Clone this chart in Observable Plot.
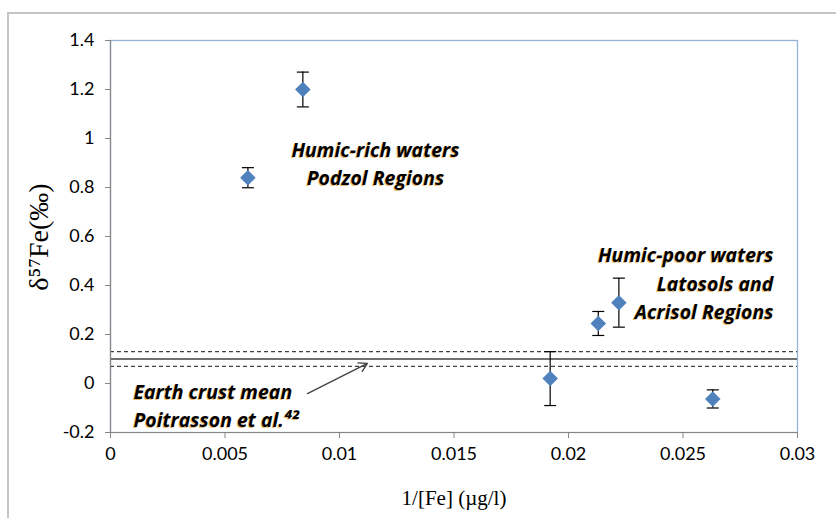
<!DOCTYPE html>
<html>
<head>
<meta charset="utf-8">
<script src="https://cdn.jsdelivr.net/npm/d3@7"></script>
<script src="https://cdn.jsdelivr.net/npm/@observablehq/plot@0.6"></script>
<style>
  html, body { margin: 0; padding: 0; background: #fff; }
  #wrap { position: relative; width: 836px; height: 518px; overflow: hidden; background: #fff; }
  #border { position: absolute; left: 7px; top: 12px; width: 1000px; height: 1000px; border: 2px solid #c4c4c4; box-sizing: border-box; }
  #wrap svg { position: absolute; left: 0; top: 0; }
  #ylabel { position: absolute; left: 39px; top: 237px; transform: translate(-50%, -50%) rotate(-90deg);
            white-space: nowrap; font-family: 'Liberation Serif', 'Times New Roman', serif; font-size: 28px; line-height: 1; color: #000; z-index: 2; }
</style>
</head>
<body>
<div id="wrap"><div id="border"></div><div id="ylabel"></div></div>
<script>
// Data
const invFe = [0.0060, 0.0084, 0.0192, 0.0213, 0.0222, 0.0263];
const delta57 = [0.84, 1.20, 0.02, 0.245, 0.33, -0.063];
const errors = [0.041, 0.071, 0.11, 0.049, 0.10, 0.037];

const crustMean = [0.10];
const crustBounds = [0.13, 0.07];

const xTicks = [0, 0.005, 0.01, 0.015, 0.02, 0.025, 0.03];
const yTicks = [-0.2, 0, 0.2, 0.4, 0.6, 0.8, 1, 1.2, 1.4];

const xLabel = "1/[Fe] (µg/l)";
const yLabel = "δ⁵⁷Fe(‰)";

const notes = [
  {x: 0.01157, y: 0.905, text: "Humic-rich waters\nPodzol Regions", anchor: "middle"},
  {x: 0.02895, y: 0.416, text: "Humic-poor waters\nLatosols and\nAcrisol Regions", anchor: "end"},
  {x: 0.00100, y: -0.083, text: "Earth crust mean\nPoitrasson et al.⁴²", anchor: "start"}
];

const arrowFrom = {x: 0.0086, y: -0.041};
const arrowTo = {x: 0.01122, y: 0.082};

const points = invFe.map((x, i) => ({x, y: delta57[i], e: errors[i]}));
const arrows = [{x1: arrowFrom.x, y1: arrowFrom.y, x2: arrowTo.x, y2: arrowTo.y}];

const fmt = d => String(+d.toFixed(3)).replace("−", "-");
const cap = { draw(ctx) { ctx.moveTo(-6, 0); ctx.lineTo(6, 0); } };

const annotFont = {fontFamily: "'Open Sans', Lato, sans-serif", fontWeight: "bold", fontStyle: "italic", fontSize: 19.5, lineHeight: 1.45};
const serif = "'Liberation Serif', 'Times New Roman', serif";

const plot = Plot.plot({
  width: 836,
  height: 518,
  marginLeft: 110,
  marginRight: 39,
  marginTop: 40,
  marginBottom: 86,
  style: {fontFamily: "Lato, sans-serif", fontSize: "18px", color: "#000", background: "transparent", overflow: "visible"},
  x: {domain: [0, 0.03]},
  y: {domain: [-0.2, 1.4]},
  marks: [
    Plot.frame({stroke: "#95b3d7", strokeWidth: 1.3}),
    Plot.ruleY(crustBounds, {stroke: "#404040", strokeWidth: 1.2, strokeDasharray: "4,3"}),
    Plot.ruleY(crustMean, {stroke: "#404040", strokeWidth: 1.5}),
    Plot.ruleX([0], {stroke: "#868686", strokeWidth: 1.2}),
    Plot.ruleY([-0.2], {stroke: "#868686", strokeWidth: 1.2}),
    Plot.axisX({ticks: xTicks, tickSize: 6, tickPadding: 9, tickFormat: fmt, stroke: "#868686", label: null, fontSize: 18}),
    Plot.axisY({ticks: yTicks, tickSize: 5, tickPadding: 11, tickFormat: fmt, stroke: "#868686", label: null, fontSize: 18}),
    Plot.axisX({ticks: [], label: xLabel, labelAnchor: "center", labelOffset: 72, labelArrow: "none", fontFamily: serif, fontSize: 21, tickSize: 0}),
    Plot.ruleX(points, {x: "x", y1: d => d.y - d.e, y2: d => d.y + d.e, stroke: "#000", strokeWidth: 1.2}),
    Plot.dot(points, {x: "x", y: d => d.y + d.e, symbol: cap, stroke: "#000", strokeWidth: 1.2, fill: "none"}),
    Plot.dot(points, {x: "x", y: d => d.y - d.e, symbol: cap, stroke: "#000", strokeWidth: 1.2, fill: "none"}),
    Plot.dot(points, {x: "x", y: "y", symbol: "diamond2", r: 7, fill: "#4f81bd", stroke: "none"}),
    Plot.arrow(arrows, {x1: "x1", y1: "y1", x2: "x2", y2: "y2", stroke: "#404040", strokeWidth: 1.3, headLength: 11}),
    ...notes.map(n => Plot.text([n], {x: "x", y: "y", text: "text", textAnchor: n.anchor, fill: "#e0a030", fillOpacity: 0.7, dx: -1, dy: 1, ...annotFont})),
    ...notes.map(n => Plot.text([n], {x: "x", y: "y", text: "text", textAnchor: n.anchor, fill: "#000", ...annotFont}))
  ]
});
document.getElementById("wrap").appendChild(plot);
document.getElementById("ylabel").textContent = yLabel;
</script>
</body>
</html>
